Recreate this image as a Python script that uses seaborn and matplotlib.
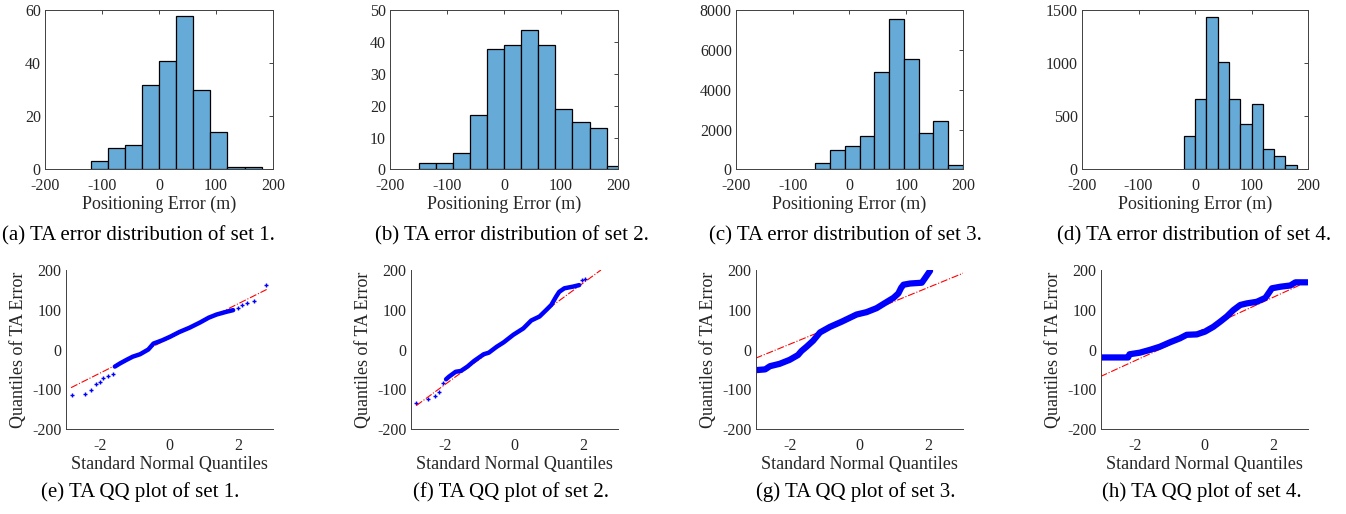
import numpy as np
import pandas as pd
import matplotlib
matplotlib.use("Agg")
import matplotlib.pyplot as plt
import seaborn as sns

# ---- histogram data (bin edges and counts per set) ----
hist1_edges = [-120, -90, -60, -30, 0, 30, 60, 90, 120, 150, 180]
hist1_counts = [3, 8, 9, 32, 41, 58, 30, 14, 1, 1]

hist2_edges = [-150, -120, -90, -60, -30, 0, 30, 60, 90, 120, 150, 180, 210]
hist2_counts = [2, 2, 5, 17, 38, 39, 44, 39, 19, 15, 13, 1]

hist3_edges = [-60, -34, -8, 18, 44, 70, 96, 122, 148, 174, 200]
hist3_counts = [300, 970, 1150, 1700, 4890, 7565, 5540, 1810, 2430, 220]

hist4_edges = [-20, 0, 20, 40, 60, 80, 100, 120, 140, 160, 180]
hist4_counts = [311, 662, 1437, 1013, 665, 430, 615, 191, 122, 44]

hist_ymax = [60, 50, 8000, 1500]
hist_ystep = [20, 10, 2000, 500]

# ---- QQ data: dense part of the curve ----
qq1_x = [-1.57, -1.42, -1.23, -1.05, -0.84, -0.60, -0.45, -0.20, 0.03, 0.30,
         0.60, 0.90, 1.15, 1.38, 1.67, 1.86]
qq1_y = [-43, -35, -26, -18, -12, 0, 15, 23, 32, 44, 55, 68, 80, 88, 95, 99]
qq1_tail_x = [-2.82, -2.43, -2.26, -2.13, -2.00, -1.90, -1.76, -1.62,
              2.01, 2.13, 2.27, 2.46, 2.82]
qq1_tail_y = [-115, -112, -102, -87, -81, -72, -67, -62,
              105, 112, 118, 123, 162]

qq2_x = [-1.97, -1.88, -1.69, -1.54, -1.35, -1.16, -0.88, -0.73, -0.50, -0.30,
         -0.02, 0.27, 0.50, 0.74, 0.93, 1.08, 1.22, 1.31, 1.46, 1.70, 1.89]
qq2_y = [-75, -68, -56, -54, -43, -29, -12, -8, 7, 18,
         37, 53, 73, 83, 99, 112, 133, 145, 154, 158, 162]
qq2_tail_x = [-2.83, -2.48, -2.28, -2.16, -2.05, 1.96, 2.06]
qq2_tail_y = [-135, -125, -116, -106, -85, 175, 177]

qq3_x = [-3.0, -2.72, -2.58, -2.30, -2.01, -1.77, -1.67, -1.52, -1.33, -1.13,
         -0.84, -0.50, -0.07, 0.22, 0.51, 0.81, 1.00, 1.14, 1.22, 1.29,
         1.48, 1.82, 1.91, 2.06]
qq3_y = [-52, -50, -42, -36, -26, -14, -4, 7, 22, 43,
         57, 70, 88, 94, 104, 120, 130, 141, 155, 163,
         166, 168, 179, 198]

qq4_x = [-3.0, -2.64, -2.20, -2.16, -1.86, -1.57, -1.28, -0.99, -0.70, -0.50,
         -0.21, 0.03, 0.27, 0.47, 0.66, 0.85, 1.05, 1.24, 1.53, 1.78,
         1.97, 2.22, 2.50, 2.65, 3.0]
qq4_y = [-20, -20, -20, -12, -8, -1, 7, 18, 28, 37,
         38, 45, 57, 70, 83, 99, 112, 116, 120, 130,
         154, 158, 161, 169, 169]

# reference lines (end points)
ref1_x, ref1_y = [-2.84, 2.83], [-96, 151]
ref2_x, ref2_y = [-2.83, 2.52], [-141, 200]
ref3_x, ref3_y = [-3.0, 3.02], [-22, 192]
ref4_x, ref4_y = [-3.0, 3.0], [-68, 171]

hist_captions = ["(a) TA error distribution of set 1.",
                 "(b) TA error distribution of set 2.",
                 "(c) TA error distribution of set 3.",
                 "(d) TA error distribution of set 4."]
qq_captions = ["(e) TA QQ plot of set 1.", "(f) TA QQ plot of set 2.",
               "(g) TA QQ plot of set 3.", "(h) TA QQ plot of set 4."]

sns.set_theme(style="white")
plt.rcParams["font.family"] = ["Liberation Serif", "DejaVu Serif"]
plt.rcParams["axes.unicode_minus"] = False
plt.rcParams["axes.edgecolor"] = "#404040"
plt.rcParams["axes.linewidth"] = 0.7

W, H = 1346, 514
fig = plt.figure(figsize=(W / 100, H / 100), dpi=100)


def add_ax(left, top, right, bottom):
    return fig.add_axes([left / W, 1 - bottom / H, (right - left) / W, (bottom - top) / H])


def place_labels(ax, left, top, right, bottom, xlab_y, ylab_x=None):
    # put the axis labels at fixed pixel spots (centres)
    ax.xaxis.set_label_coords(0.5, (bottom - xlab_y) / (bottom - top))
    ax.xaxis.label.set_va("center")
    if ylab_x is not None:
        ax.yaxis.set_label_coords((ylab_x - left) / (right - left), 0.5)
        ax.yaxis.label.set_va("center")


text_col = "#262626"
bar_col = "#66AAD7"
tick_fs = 11.5
label_fs = 13
cap_fs = 15

hist_edges = [hist1_edges, hist2_edges, hist3_edges, hist4_edges]
hist_counts = [hist1_counts, hist2_counts, hist3_counts, hist4_counts]
hist_boxes = [(45, 273), (390, 618), (736, 963), (1082, 1308)]
hist_cap_x = [138, 512, 845, 1194]

for i in range(4):
    left, right = hist_boxes[i]
    ax = add_ax(left, 10.5, right, 169.3)
    edges = hist_edges[i]
    df = pd.DataFrame({
        "err": [(a + b) / 2 for a, b in zip(edges[:-1], edges[1:])],
        "count": hist_counts[i],
    })
    sns.histplot(data=df, x="err", weights="count", bins=edges, color=bar_col,
                 alpha=1, edgecolor="black", linewidth=0.9, ax=ax)
    ax.set_xlim(-200, 200)
    ax.set_ylim(0, hist_ymax[i])
    ax.set_xticks(range(-200, 201, 100))
    ax.set_yticks(np.arange(0, hist_ymax[i] + 1, hist_ystep[i]))
    ax.tick_params(direction="in", length=3, width=0.6, top=True, right=True,
                   labelsize=tick_fs, colors=text_col)
    ax.tick_params(axis="x", pad=6.5)
    ax.tick_params(axis="y", pad=3)
    ax.set_xlabel("Positioning Error (m)", fontsize=label_fs, color=text_col)
    ax.set_ylabel("")
    place_labels(ax, left, 10.5, right, 169.3, 204)
    fig.text(hist_cap_x[i] / W, 1 - 236 / H, hist_captions[i], ha="center",
             va="center", fontsize=cap_fs, color="black")

qq_x = [qq1_x, qq2_x, qq3_x, qq4_x]
qq_y = [qq1_y, qq2_y, qq3_y, qq4_y]
qq_tail_x = [qq1_tail_x, qq2_tail_x, [], []]
qq_tail_y = [qq1_tail_y, qq2_tail_y, [], []]
ref_x = [ref1_x, ref2_x, ref3_x, ref4_x]
ref_y = [ref1_y, ref2_y, ref3_y, ref4_y]
qq_lw = [3.2, 3.2, 4.5, 4.5]
qq_boxes = [(65.5, 272.5), (410.5, 617.5), (755.5, 962.5), (1100.5, 1307.5)]
qq_cap_x = [140, 511, 856, 1202]

for i in range(4):
    left, right = qq_boxes[i]
    ax = add_ax(left, 270, right, 429)
    sns.lineplot(x=ref_x[i], y=ref_y[i], color="red", linestyle="-.",
                 linewidth=0.8, ax=ax)
    sns.lineplot(x=qq_x[i], y=qq_y[i], sort=False, estimator=None,
                 color="blue", linewidth=qq_lw[i], ax=ax)
    if len(qq_tail_x[i]) > 0:
        sns.scatterplot(x=qq_tail_x[i], y=qq_tail_y[i], marker="+", color="blue",
                        s=10, linewidth=1.0, ax=ax)
    ax.set_xlim(-3, 3)
    ax.set_ylim(-200, 200)
    ax.set_xticks([-2, 0, 2])
    ax.set_yticks(range(-200, 201, 100))
    sns.despine(ax=ax)
    ax.tick_params(direction="in", length=3, width=0.6, labelsize=tick_fs,
                   colors=text_col)
    ax.tick_params(axis="x", pad=6.5)
    ax.tick_params(axis="y", pad=3)
    ax.set_xlabel("Standard Normal Quantiles", fontsize=label_fs, color=text_col)
    ax.set_ylabel("Quantiles of TA Error", fontsize=label_fs, color=text_col)
    place_labels(ax, left, 270, right, 429, 465, left - 47)
    fig.text(qq_cap_x[i] / W, 1 - 492 / H, qq_captions[i], ha="center",
             va="center", fontsize=cap_fs, color="black")

fig.savefig("out.png", dpi=100)
